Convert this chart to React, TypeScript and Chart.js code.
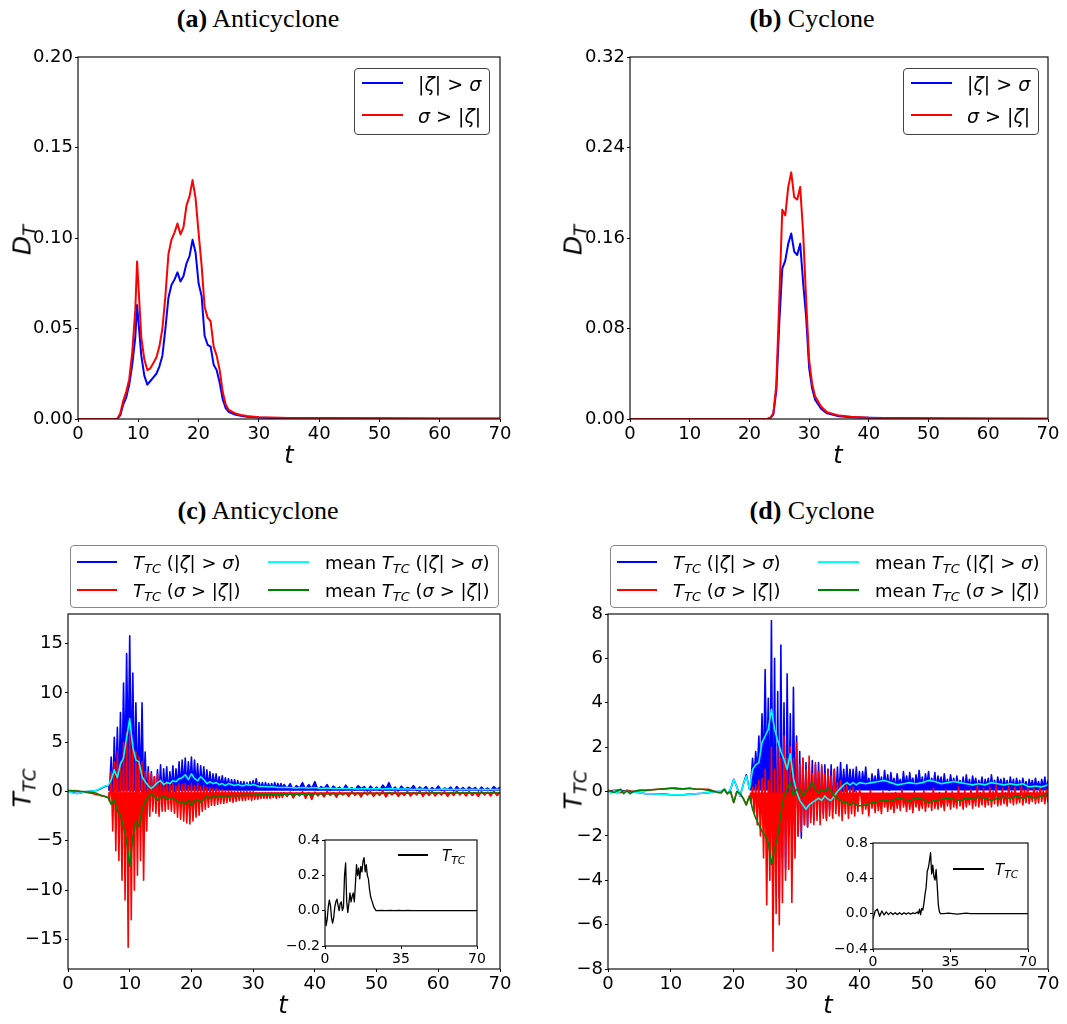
import React, { useEffect, useRef } from 'react';
import { Chart, registerables } from 'chart.js';

Chart.register(...registerables);

// ---------- time grids ----------
function seg(a: number, b: number, s: number): number[] {
  const out: number[] = [];
  const n = Math.round((b - a) / s);
  for (let i = 0; i <= n; i++) out.push(+(a + i * s).toFixed(4));
  return out;
}

// ---------- (a) Anticyclone D_T ----------
const T_A = [0, 6.5, 7, 7.5, 8, 8.5, 9, 9.5, 9.8, 10, 10.5, 11, 11.5, 12, 12.5, 13, 13.5, 14, 14.5, 15, 15.5, 16, 16.5, 17, 17.5, 18, 18.5, 19, 19.5, 20, 20.5, 21, 21.5, 22, 22.5, 23, 23.5, 24, 24.5, 25, 26, 27, 28, 30, 32, 35, 40, 50, 60, 70];
const DA_ZETA = [0, 0, 0.002, 0.008, 0.012, 0.019, 0.03, 0.045, 0.063, 0.055, 0.035, 0.024, 0.019, 0.021, 0.023, 0.025, 0.029, 0.035, 0.05, 0.067, 0.074, 0.077, 0.081, 0.076, 0.079, 0.086, 0.09, 0.099, 0.092, 0.075, 0.068, 0.046, 0.041, 0.04, 0.03, 0.027, 0.02, 0.011, 0.006, 0.004, 0.0025, 0.0018, 0.0013, 0.0008, 0.0006, 0.0005, 0.0004, 0.0003, 0.0002, 0.0002];
const DA_SIGMA = [0, 0, 0.003, 0.01, 0.015, 0.022, 0.037, 0.06, 0.087, 0.075, 0.045, 0.033, 0.027, 0.028, 0.031, 0.034, 0.04, 0.05, 0.068, 0.091, 0.099, 0.103, 0.108, 0.102, 0.106, 0.118, 0.123, 0.132, 0.122, 0.103, 0.085, 0.062, 0.056, 0.054, 0.04, 0.035, 0.027, 0.015, 0.008, 0.005, 0.0032, 0.0022, 0.0016, 0.001, 0.0008, 0.0006, 0.0005, 0.0004, 0.0003, 0.0003];

// ---------- (b) Cyclone D_T ----------
const T_B = [0, 23, 23.5, 24, 24.5, 25, 25.5, 26, 26.5, 27, 27.5, 28, 28.5, 29, 29.5, 30, 30.5, 31, 32, 33, 35, 37, 40, 45, 50, 60, 70];
const DB_ZETA = [0, 0, 0.001, 0.004, 0.025, 0.085, 0.133, 0.14, 0.155, 0.164, 0.148, 0.145, 0.155, 0.12, 0.09, 0.045, 0.027, 0.017, 0.009, 0.005, 0.0025, 0.0015, 0.001, 0.0007, 0.0005, 0.0003, 0.0002];
const DB_SIGMA = [0, 0, 0.001, 0.005, 0.03, 0.105, 0.185, 0.18, 0.205, 0.218, 0.196, 0.194, 0.205, 0.164, 0.105, 0.052, 0.031, 0.02, 0.011, 0.006, 0.003, 0.002, 0.0012, 0.0008, 0.0006, 0.0004, 0.0003];

// ---------- (c) Anticyclone T_TC ----------
const T_C = [...seg(0, 6.5, 0.5), ...seg(6.75, 35, 0.25), ...seg(35.5, 70, 0.5)];
const TC_ZETA = [
  0, -0.05, -0.15, -0.2, -0.15, -0.05, 0, 0.02, 0.05, 0.1, 0.2, 0.35, 0.5, 0.6,
  0.5, 3.5, -0.5, 5.5, 0.5, 6.5, 0, 8,
  1, 11, 2, 14, 3, 15.8, 2, 12,
  1, 9, 0, 7, 0.5, 9, -0.5, 4,
  -1, 2.5, -1.2, 2, -0.8, 1.5, -1.3, 2.2,
  -0.5, 2.7, -0.8, 2.3, 0, 2.5, -0.3, 2.0,
  0.2, 2.6, 0, 2.3, 0.3, 3.0, 0.2, 3.2,
  0.5, 3.4, 0.3, 3.0, 0.6, 3.5, 0.4, 3.2,
  0.5, 2.8, 0.3, 2.6, 0.5, 2.5, 0.3, 2.2,
  0.4, 2.0, 0.3, 1.8, 0.5, 1.8, 0.4, 1.5,
  0.5, 1.6, 0.4, 1.4, 0.5, 1.3, 0.4, 1.2,
  0.5, 1.2, 0.4, 1.1, 0.4, 1.0, 0.4, 1.0,
  0.4, 0.9, 0.3, 1.0, 0.4, 1.1, 0.3, 1.3,
  0.4, 0.9, 0.3, 0.9, 0.3, 0.9, 0.3, 0.8,
  0.3, 0.8, 0.3, 0.9, 0.3, 0.8, 0.3, 0.8,
  0.3, 0.7,
  0.3, 0.8, 0.15, 0.6, 0.35, 0.9, 0.2, 0.7, 0.3, 1.0,
  0.15, 0.5, 0.3, 0.7, 0.1, 0.55, 0.25, 0.45, 0.1, 0.65,
  0.2, 0.4, 0.15, 0.6, 0.3, 0.5, 0.05, 0.55, 0.2, 0.45,
  0.1, 0.65, 0.25, 0.9, 0.15, 0.45, 0.05, 0.55, 0.2, 0.4,
  0.25, 0.6, 0.1, 0.45, 0.2, 0.5, 0.05, 0.4, 0.15, 0.55,
  0.1, 0.35, 0.2, 0.45, 0.05, 0.5, 0.15, 0.4, 0.1, 0.45,
  0.2, 0.4, 0.05, 0.45, 0.15, 0.35, 0.1, 0.5, 0.2, 0.45,
];
const TC_SIGMA = [
  0, 0.05, 0.1, 0.05, 0, -0.05, -0.1, -0.15, -0.2, -0.3, -0.35, -0.45, -0.5, -0.6,
  -1, 2, -4, 3, -6, 4, -7, 3,
  -9, 5, -11, 6, -15.8, 7, -13, 5,
  -10, 4, -8.5, 3.5, -7, 3, -9, 2,
  -4, 2, -2.5, 1.8, -2, 1.5, -2.2, 1.8,
  -2.5, 1.2, -2, 1.0, -2, 1.0, -1.8, 0.8,
  -2, 0.8, -2.2, 0.6, -2.6, 0.8, -2.8, 0.7,
  -3.0, 0.8, -3.2, 0.6, -3.3, 0.8, -3.0, 0.6,
  -2.6, 0.8, -2.4, 0.5, -2.0, 0.6, -1.8, 0.4,
  -1.6, 0.4, -1.4, 0.3, -1.4, 0.3, -1.3, 0.2,
  -1.2, 0.2, -1.2, 0.1, -1.1, 0.1, -1.0, 0.1,
  -1.1, 0, -1.0, 0, -0.9, 0, -0.9, 0,
  -0.9, 0, -0.8, 0, -0.9, 0, -0.8, -0.1,
  -0.8, -0.1, -0.7, -0.1, -0.7, -0.1, -0.7, -0.1,
  -0.7, -0.1, -0.6, -0.1, -0.7, -0.1, -0.6, -0.1,
  -0.6, -0.1,
  -0.5, -0.05, -0.65, -0.15, -0.45, 0.0, -0.7, -0.1, -0.8, -0.05,
  -0.45, -0.15, -0.55, 0.0, -0.4, -0.1, -0.6, -0.05, -0.35, -0.15,
  -0.5, 0.0, -0.4, -0.1, -0.55, -0.05, -0.35, 0.0, -0.5, -0.1,
  -0.4, 0.05, -0.55, -0.1, -0.35, 0.0, -0.5, -0.15, -0.4, 0.0,
  -0.45, -0.1, -0.35, 0.05, -0.5, -0.05, -0.4, 0.0, -0.45, -0.1,
  -0.35, 0.0, -0.5, -0.1, -0.4, 0.05, -0.35, -0.05, -0.45, 0.0,
  -0.4, -0.1, -0.5, 0.0, -0.35, -0.05, -0.45, 0.05, -0.4, -0.1,
];
const T_C_MEAN = [...seg(0, 6.5, 0.5), ...seg(7, 35, 0.5), ...seg(36, 70, 1)];
const TC_MEAN_ZETA = [
  0, -0.1, -0.2, -0.2, -0.15, -0.05, 0, 0, 0.05, 0.1, 0.25, 0.4, 0.55, 0.6,
  1.2, 2.2, 1.4, 2.8, 3.4, 5.5, 7.4, 4.5, 3.2, 3.0,
  1.5, 1.0, 0.6, 0.3, 0.6, 0.9, 1.1, 0.7, 0.9, 0.8,
  1.1, 1.0, 1.3, 1.4, 1.7, 1.2, 1.8, 1.3, 1.1, 1.5,
  1.2, 0.8, 1.0, 0.8, 0.9, 0.7, 0.8, 0.6, 0.8, 0.7,
  0.6, 0.7, 0.6, 0.6, 0.7, 0.6, 0.7, 0.6, 0.5, 0.5,
  0.5, 0.45, 0.5, 0.45, 0.4, 0.4, 0.4,
  0.4, 0.35, 0.4, 0.35, 0.4, 0.3, 0.35, 0.3, 0.3, 0.3,
  0.3, 0.25, 0.3, 0.25, 0.3, 0.25, 0.3, 0.25, 0.25, 0.25,
  0.2, 0.25, 0.2, 0.2, 0.2, 0.25, 0.2, 0.2, 0.2, 0.2,
  0.2, 0.2, 0.2, 0.2, 0.2,
];
const TC_MEAN_SIGMA = [
  0.1, 0.1, 0.05, 0.05, 0, 0, -0.05, -0.05, -0.1, -0.15, -0.3, -0.4, -0.5, -0.6,
  -1.3, -0.8, -2.0, -2.4, -3.6, -5.0, -7.6, -4.6, -3.0, -3.6,
  -1.8, -1.0, -0.6, -0.3, -0.4, -0.9, -0.6, -0.5, -0.8, -0.6,
  -0.7, -0.9, -1.1, -1.0, -1.3, -0.9, -1.4, -0.9, -0.8, -1.1,
  -0.8, -0.5, -0.7, -0.5, -0.6, -0.4, -0.5, -0.4, -0.5, -0.4,
  -0.4, -0.45, -0.4, -0.35, -0.4, -0.35, -0.4, -0.3, -0.35, -0.3,
  -0.3, -0.3, -0.3, -0.3, -0.3, -0.25, -0.3,
  -0.25, -0.3, -0.25, -0.3, -0.25, -0.2, -0.25, -0.2, -0.25, -0.2,
  -0.2, -0.2, -0.2, -0.2, -0.2, -0.2, -0.15, -0.2, -0.2, -0.15,
  -0.2, -0.15, -0.2, -0.15, -0.15, -0.2, -0.15, -0.15, -0.15, -0.15,
  -0.15, -0.15, -0.15, -0.15, -0.15,
];
const T_C_INSET = [...seg(0, 24, 0.5), ...seg(26, 70, 2)];
const TC_TOTAL = [
  0.0, -0.085, -0.05, 0.02, 0.06, 0.03, -0.04, -0.07, -0.04, 0.02,
  0.05, 0.065, 0.03, 0.0, 0.04, 0.05, 0.0, 0.02, 0.2, 0.27,
  0.05, -0.01, 0.04, 0.1, 0.05, 0.08, 0.1, 0.05, 0.15, 0.26,
  0.2, 0.24, 0.18, 0.25, 0.22, 0.28, 0.3, 0.22, 0.26, 0.2,
  0.18, 0.12, 0.08, 0.06, 0.04, 0.02, 0.01, 0.0, 0.0,
  0.002, 0, 0.002, 0, 0.001, 0, 0.001, 0, 0, 0, 0, 0, 0, 0, 0, 0, 0, 0, 0, 0, 0, 0, 0,
];

// ---------- (d) Cyclone T_TC ----------
const T_D = [...seg(0, 18, 1), ...seg(18.5, 22.5, 0.5), ...seg(22.75, 70, 0.25)];
const TD_ZETA = [
  0, 0.05, 0.05, 0, 0, -0.05, -0.1, -0.1, -0.12, -0.12, -0.15, -0.15, -0.15, -0.12, -0.1, -0.08, -0.05, 0, 0,
  0.1, -0.1, 0.1, 0.55, 0.2, -0.2, 0.3, 0.75, 0.1,
  0.5, 1.5, 0.6, 1.8, 0.8, 2.5, 0.5, 3.5,
  0.8, 5.5, 0.5, 4.2, -1.5, 7.7, -3.0, 6.0,
  -4.0, 4.5, -4.8, 6.6, -3.0, 4.0, -3.5, 5.3,
  -2.0, 3.5, -2.5, 4.7, -1.5, 2.5, -2.0, 1.8,
  -2.1, 1.5, -1.5, 1.3, -1.6, 1.2, -1.2, 1.4,
  -1.3, 1.2, -1.0, 1.3, -1.1, 1.1, -1.0, 1.2,
  -1.2, 1.0, -0.8, 1.2, -0.9, 1.0, -0.5, 1.1,
  -0.3, 1.3, 0.0, 1.0, 0.0, 1.2, 0.1, 1.0,
  0.1, 1.0, 0.0, 1.1, 0.1, 0.9,
  0.1, 0.9, 0.3, 1.1, 0.2, 0.6, 0.05, 0.8, 0.25, 0.7,
  0.1, 1.0, 0.3, 0.65, 0.15, 0.95, 0.2, 0.75, 0.05, 0.85,
  0.25, 0.6, 0.1, 0.8, 0.3, 0.55, 0.1, 0.9, 0.2, 0.7,
  0.15, 0.85, 0.3, 0.6, 0.05, 0.75, 0.2, 0.95, 0.25, 0.65,
  0.1, 0.8, 0.3, 0.9, 0.15, 0.6, 0.2, 0.85, 0.1, 0.7,
  0.3, 0.65, 0.1, 0.8, 0.2, 0.55, 0.15, 0.75, 0.25, 0.6,
  0.1, 0.7, 0.2, 0.5, 0.15, 0.65, 0.05, 0.75, 0.2, 0.55,
  0.1, 0.7, 0.25, 0.6, 0.1, 0.5, 0.2, 0.65, 0.05, 0.55,
  0.2, 0.6, 0.1, 0.75, 0.2, 0.5, 0.1, 0.65, 0.25, 0.55,
  0.1, 0.6, 0.2, 0.5, 0.05, 0.65, 0.2, 0.55, 0.1, 0.6,
  0.2, 0.5, 0.1, 0.6, 0.15, 0.45, 0.05, 0.55, 0.2, 0.5,
  0.1, 0.6, 0.2, 0.45, 0.1, 0.55, 0.15, 0.65, 0.1, 0.5,
];
const TD_SIGMA = [
  0.05, 0, -0.05, 0.05, 0, 0.05, 0.05, 0.08, 0.1, 0.12, 0.15, 0.12, 0.12, 0.15, 0.1, 0.1, 0.1, 0, -0.05,
  0.1, -0.1, 0.0, -0.5, 0.0, -0.1, -0.3, -0.6, -0.2,
  -0.5, 0.2, -1.0, 0.3, -1.5, 0.5, -2.0, 0.6,
  -3.0, 1.0, -5.1, 0.5, -4.0, 2.0, -7.2, 1.0,
  -5.5, 2.0, -6.0, 1.5, -5.0, 2.5, -4.0, 1.5,
  -3.5, 2.0, -5.0, 1.5, -3.0, 2.2, -2.0, 1.2,
  -1.8, 1.5, -1.5, 1.0, -1.6, 1.6, -1.4, 0.8,
  -1.5, 1.3, -1.3, 0.9, -1.5, 1.2, -1.2, 0.8,
  -1.3, 1.0, -1.1, 0.7, -1.2, 1.0, -1.0, 0.4,
  -1.1, 0.5, -1.3, 0.2, -1.0, 0.3, -1.2, 0.1,
  -1.0, 0.2, -1.1, 0.0, -0.9, 0.1,
  -0.2, -1.0, -0.1, -0.8, -0.3, -1.1, 0.05, -0.75, -0.2, -0.95,
  -0.1, -0.85, -0.3, -1.0, 0.0, -0.7, -0.2, -0.9, -0.1, -0.8,
  -0.3, -0.95, -0.05, -0.75, -0.2, -0.85, 0.1, -0.7, -0.25, -0.9,
  -0.1, -0.8, -0.2, -0.95, 0.0, -0.7, -0.15, -0.85, -0.3, -0.75,
  0.05, -0.9, -0.2, -0.7, -0.1, -0.85, 0.15, -0.75, -0.2, -0.8,
  -0.05, -0.7, -0.25, -0.85, 0.1, -0.65, -0.15, -0.8, 0.0, -0.7,
  -0.2, -0.75, 0.2, -0.65, -0.1, -0.8, 0.05, -0.7, -0.2, -0.6,
  0.1, -0.75, -0.1, -0.65, 0.25, -0.7, -0.05, -0.6, 0.15, -0.7,
  -0.1, -0.6, 0.2, -0.7, 0.0, -0.55, 0.3, -0.65, -0.1, -0.6,
  0.15, -0.55, -0.05, -0.65, 0.25, -0.5, 0.0, -0.6, 0.2, -0.55,
  -0.1, -0.5, 0.3, -0.6, 0.05, -0.5, 0.2, -0.55, -0.05, -0.45,
  0.2, -0.55, 0.0, -0.5, 0.25, -0.45, 0.05, -0.55, 0.1, -0.5,
];
const T_D_MEAN = [...seg(0, 4, 0.5), ...seg(5, 17, 1), ...seg(17.5, 40, 0.5), ...seg(41, 70, 1)];
const TD_MEAN_ZETA = [
  0, -0.1, 0.05, -0.1, 0.05, -0.05, 0.05, -0.1, 0,
  -0.05, -0.1, -0.1, -0.12, -0.13, -0.15, -0.15, -0.15, -0.12, -0.1, -0.08, -0.05, 0,
  0, 0, 0.1, -0.1, 0.1, 0.55, 0.2, -0.2, 0.3, 0.7,
  0.1, 1.0, 1.2, 1.3, 2.2, 2.5, 2.8, 3.7, 2.8, 2.3,
  1.8, 1.45, 1.0, 1.7, 0.6, 0.0, -0.4, -0.6, -0.8, -0.6,
  -0.5, -0.4, -0.3, -0.4, -0.2, -0.35, -0.4, -0.2, 0.0, 0.15,
  0.3, 0.4, 0.3, 0.4, 0.3, 0.4,
  0.35, 0.4, 0.45, 0.5, 0.4, 0.3, 0.35, 0.4, 0.35, 0.4,
  0.5, 0.45, 0.35, 0.4, 0.45, 0.4, 0.35, 0.3, 0.35, 0.3,
  0.4, 0.35, 0.3, 0.35, 0.3, 0.35, 0.2, 0.25, 0.2, 0.3,
];
const TD_MEAN_SIGMA = [
  0.05, 0.0, -0.05, 0.05, 0.1, -0.1, 0.05, -0.1, 0.0,
  0.05, 0.05, 0.08, 0.1, 0.12, 0.15, 0.15, 0.12, 0.15, 0.1, 0.1, 0.05, 0.0,
  -0.05, -0.05, 0.1, -0.1, 0.0, -0.5, 0.0, -0.1, -0.3, -0.6,
  -0.2, -0.8, -1.2, -1.5, -1.8, -2.0, -2.3, -3.3, -2.6, -2.0,
  -1.0, -0.2, 0.1, 0.4, -0.2, 0.1, 0.1, -0.2, 0.0, 0.2,
  0.4, 0.1, -0.05, 0.1, 0.0, 0.15, 0.0, -0.2, -0.3, -0.4,
  -0.5, -0.5, -0.6, -0.5, -0.6, -0.65,
  -0.6, -0.5, -0.45, -0.4, -0.45, -0.3, -0.35, -0.4, -0.3, -0.35,
  -0.5, -0.4, -0.35, -0.3, -0.35, -0.4, -0.3, -0.35, -0.25, -0.3,
  -0.4, -0.3, -0.25, -0.3, -0.2, -0.3, -0.2, -0.3, -0.2, -0.15,
];
const T_D_INSET = [...seg(0, 20, 1), ...seg(20.5, 31, 0.5), ...seg(32, 70, 2)];
const TD_TOTAL = [
  -0.06, 0.03, 0.05, -0.03, 0.03, -0.015, 0.02, -0.01, 0.015, -0.01, 0.01, -0.01, 0.01, -0.01, 0.01, -0.005, 0.01, -0.005, 0.01, 0.0, 0.02,
  0.0, 0.05, -0.01, 0.06, 0.04, 0.12, 0.22, 0.3, 0.48, 0.52, 0.6, 0.69, 0.45, 0.55, 0.42, 0.38, 0.5, 0.32, 0.1, 0.02, 0.0, 0.0,
  0, 0.005, 0, -0.005, 0, 0.005, 0, 0, 0, 0, 0, 0, 0, 0, 0, 0, 0, 0, 0, 0,
];

// ---------- tick settings ----------
const X_TICKS_MAIN = [0, 70, 10];
const X_TICKS_INSET = [0, 70, 35];
const Y_TICKS_A = [0, 0.2, 0.05];
const Y_TICKS_B = [0, 0.32, 0.08];
const Y_TICKS_C = [-18, 18, 5];
const Y_TICKS_D = [-8, 8, 2];
const Y_TICKS_C_INSET = [-0.2, 0.4, 0.2];
const Y_TICKS_D_INSET = [-0.4, 0.8, 0.4];

const BLUE = '#0000ff';
const RED = '#ff0000';
const CYAN = '#00ffff';
const GREEN = '#008000';
const FONT = "'DejaVu Sans', 'Liberation Sans', sans-serif";

type LineSpec = {
  t: number[]; y: number[]; color: string; width: number; order: number;
  fillValue?: number; fillFrom?: number;
};
type Spec = {
  left: number; top: number; w: number; h: number;
  plot: [number, number, number, number];
  x: number[]; y: number[]; yDec: number; font: number;
  lines: LineSpec[]; inset?: boolean;
};

function pts(t: number[], y: number[]) {
  const n = Math.min(t.length, y.length);
  const out: { x: number; y: number }[] = [];
  for (let i = 0; i < n; i++) out.push({ x: t[i], y: y[i] });
  return out;
}

const SPECS: Spec[] = [
  {
    left: 0, top: 40, w: 530, h: 440, plot: [78, 57, 500, 419], x: X_TICKS_MAIN, y: Y_TICKS_A, yDec: 2, font: 18,
    lines: [
      { t: T_A, y: DA_ZETA, color: BLUE, width: 2, order: 2 },
      { t: T_A, y: DA_SIGMA, color: RED, width: 2, order: 1 },
    ],
  },
  {
    left: 535, top: 40, w: 532, h: 440, plot: [630, 57, 1048, 419], x: X_TICKS_MAIN, y: Y_TICKS_B, yDec: 2, font: 18,
    lines: [
      { t: T_B, y: DB_ZETA, color: BLUE, width: 2, order: 2 },
      { t: T_B, y: DB_SIGMA, color: RED, width: 2, order: 1 },
    ],
  },
  {
    left: 0, top: 600, w: 530, h: 424, plot: [68, 614, 500, 969], x: X_TICKS_MAIN, y: Y_TICKS_C, yDec: 0, font: 18,
    lines: [
      { t: T_C, y: TC_ZETA, color: BLUE, width: 1.6, order: 4, fillValue: 0.08, fillFrom: 6.5 },
      { t: T_C, y: TC_SIGMA, color: RED, width: 1.6, order: 3, fillValue: -0.08, fillFrom: 6.5 },
      { t: T_C_MEAN, y: TC_MEAN_ZETA, color: CYAN, width: 1.6, order: 2 },
      { t: T_C_MEAN, y: TC_MEAN_SIGMA, color: GREEN, width: 1.6, order: 1 },
    ],
  },
  {
    left: 535, top: 600, w: 532, h: 424, plot: [608, 614, 1048, 969], x: X_TICKS_MAIN, y: Y_TICKS_D, yDec: 0, font: 18,
    lines: [
      { t: T_D, y: TD_ZETA, color: BLUE, width: 1.6, order: 4, fillValue: 0.05, fillFrom: 22.5 },
      { t: T_D, y: TD_SIGMA, color: RED, width: 1.6, order: 3, fillValue: -0.05, fillFrom: 22.5 },
      { t: T_D_MEAN, y: TD_MEAN_ZETA, color: CYAN, width: 1.6, order: 2 },
      { t: T_D_MEAN, y: TD_MEAN_SIGMA, color: GREEN, width: 1.6, order: 1 },
    ],
  },
  {
    left: 280, top: 825, w: 220, h: 145, plot: [325, 840, 477, 946], x: X_TICKS_INSET, y: Y_TICKS_C_INSET, yDec: 1, font: 14, inset: true,
    lines: [{ t: T_C_INSET, y: TC_TOTAL, color: '#000', width: 1.3, order: 1 }],
  },
  {
    left: 828, top: 828, w: 225, h: 145, plot: [873, 843, 1028, 949], x: X_TICKS_INSET, y: Y_TICKS_D_INSET, yDec: 1, font: 14, inset: true,
    lines: [{ t: T_D_INSET, y: TD_TOTAL, color: '#000', width: 1.3, order: 1 }],
  },
];

function fmt(dec: number) {
  return (v: any) => {
    const n = Number(v);
    const s = Math.abs(n).toFixed(dec);
    return (n < -1e-9 ? '\u2212' : '') + s;
  };
}

function makeFrame(fillWhite: boolean) {
  return {
    id: 'frame',
    beforeDraw(chart: any) {
      if (!fillWhite) return;
      const { ctx, chartArea } = chart;
      ctx.save();
      ctx.fillStyle = '#ffffff';
      ctx.fillRect(chartArea.left, chartArea.top, chartArea.right - chartArea.left, chartArea.bottom - chartArea.top);
      ctx.restore();
    },
    afterDraw(chart: any) {
      const { ctx, chartArea } = chart;
      ctx.save();
      ctx.strokeStyle = '#111';
      ctx.lineWidth = 1.2;
      ctx.strokeRect(chartArea.left, chartArea.top, chartArea.right - chartArea.left, chartArea.bottom - chartArea.top);
      ctx.restore();
    },
  };
}

function ChartBox({ spec }: { spec: Spec }) {
  const ref = useRef<HTMLCanvasElement>(null);
  useEffect(() => {
    const c = ref.current;
    if (!c) return;
    const [pl, pt, pr, pb] = spec.plot;
    const yW = pl - spec.left;
    const xH = spec.top + spec.h - pb;
    const padTop = pt - spec.top;
    const padRight = spec.left + spec.w - pr;
    const tickFont = { family: FONT, size: spec.font };
    const chart = new Chart(c, {
      type: 'line',
      data: {
        datasets: spec.lines.map((l) => {
          const ds: any = {
            data: pts(l.t, l.y),
            borderColor: l.color,
            backgroundColor: l.color,
            borderWidth: l.width,
            pointRadius: 0,
            fill: false,
            tension: 0,
            order: l.order,
            borderJoinStyle: 'round',
          };
          if (l.fillValue !== undefined) {
            const from = l.fillFrom ?? -Infinity;
            ds.fill = { value: l.fillValue };
            ds.segment = {
              backgroundColor: (ctx: any) => (ctx.p0.parsed.x < from ? 'rgba(0,0,0,0)' : l.color),
            };
          }
          return ds;
        }),
      } as any,
      options: {
        responsive: false,
        animation: false,
        devicePixelRatio: 1,
        events: [],
        layout: { padding: { left: 0, top: padTop, right: padRight, bottom: 0 } },
        plugins: {
          legend: { display: false }, tooltip: { enabled: false }, title: { display: false },
          filler: { drawTime: 'beforeDatasetDraw', propagate: false },
        },
        scales: {
          x: {
            type: 'linear',
            min: spec.x[0],
            max: spec.x[1],
            ticks: {
              stepSize: spec.x[2], includeBounds: false, autoSkip: false, maxRotation: 0,
              font: tickFont, color: '#000', padding: 2, callback: fmt(0),
            },
            grid: { display: true, drawOnChartArea: false, drawTicks: true, tickLength: 3, color: '#000' },
            border: { display: false },
            afterFit: (s: any) => { s.height = xH; },
          },
          y: {
            type: 'linear',
            min: spec.y[0],
            max: spec.y[1],
            ticks: {
              stepSize: spec.y[2], includeBounds: false, autoSkip: false,
              font: tickFont, color: '#000', padding: 2, callback: fmt(spec.yDec),
            },
            grid: { display: true, drawOnChartArea: false, drawTicks: true, tickLength: 3, color: '#000' },
            border: { display: false },
            afterFit: (s: any) => { s.width = yW; },
          },
        },
      } as any,
      plugins: [makeFrame(!!spec.inset)],
    });
    return () => chart.destroy();
  }, [spec]);
  return (
    <canvas
      ref={ref}
      width={spec.w}
      height={spec.h}
      style={{ position: 'absolute', left: spec.left, top: spec.top, width: spec.w, height: spec.h }}
    />
  );
}

// ---------- text overlays ----------
function Title({ x, y, tag, text }: { x: number; y: number; tag: string; text: string }) {
  return (
    <div style={{
      position: 'absolute', left: x, top: y, transform: 'translate(-50%,-50%)',
      fontFamily: "'Liberation Serif', 'Times New Roman', serif", fontSize: 26, lineHeight: 1,
      whiteSpace: 'nowrap', color: '#000',
    }}>
      <b>{tag}</b> {text}
    </div>
  );
}

function Txt({ x, y, size, children, rotate, center }: any) {
  return (
    <div style={{
      position: 'absolute', left: x, top: y,
      transform: rotate ? 'translate(-50%,-50%) rotate(-90deg)' : center ? 'translate(-50%,-50%)' : 'translateY(-50%)',
      fontFamily: FONT, fontSize: size, lineHeight: 1, whiteSpace: 'nowrap', color: '#000',
    }}>
      {children}
    </div>
  );
}

function LLine({ x1, x2, y, color, w = 2 }: any) {
  return <div style={{ position: 'absolute', left: x1, top: y - w / 2, width: x2 - x1, height: w, background: color }} />;
}

function Box({ l, t, w, h, c = '#444' }: any) {
  return (
    <div style={{
      position: 'absolute', left: l, top: t, width: w, height: h, boxSizing: 'border-box',
      border: `1px solid ${c}`, borderRadius: 4, background: 'rgba(255,255,255,0.85)',
    }} />
  );
}

const TTC = () => (
  <span><i>T</i><i style={{ fontSize: '0.72em', position: 'relative', top: '0.3em' }}>TC</i></span>
);
const DT = () => (
  <span><i>D</i><i style={{ fontSize: '0.72em', position: 'relative', top: '0.3em' }}>T</i></span>
);
const C1 = () => <span>(|<i>ζ</i>| &gt; <i>σ</i>)</span>;
const C2 = () => <span>(<i>σ</i> &gt; |<i>ζ</i>|)</span>;

function TopLegend({ l }: { l: number }) {
  return (
    <>
      <Box l={l} t={68} w={136} h={67} />
      <LLine x1={l + 8} x2={l + 49} y={83} color={BLUE} />
      <Txt x={l + 64} y={84} size={19}>|<i>ζ</i>| &gt; <i>σ</i></Txt>
      <LLine x1={l + 8} x2={l + 49} y={115} color={RED} />
      <Txt x={l + 64} y={116} size={19}><i>σ</i> &gt; |<i>ζ</i>|</Txt>
    </>
  );
}

function BottomLegend({ l, w, c2 }: { l: number; w: number; c2: number }) {
  return (
    <>
      <Box l={l} t={545} w={w} h={63} c="#888" />
      <LLine x1={l + 7} x2={l + 47} y={562} color={BLUE} />
      <Txt x={l + 63} y={563} size={18}><TTC /> <C1 /></Txt>
      <LLine x1={l + 7} x2={l + 47} y={590} color={RED} />
      <Txt x={l + 63} y={591} size={18}><TTC /> <C2 /></Txt>
      <LLine x1={l + c2} x2={l + c2 + 41} y={562} color={CYAN} />
      <Txt x={l + c2 + 57} y={563} size={18}>mean <TTC /> <C1 /></Txt>
      <LLine x1={l + c2} x2={l + c2 + 41} y={590} color={GREEN} />
      <Txt x={l + c2 + 57} y={591} size={18}>mean <TTC /> <C2 /></Txt>
    </>
  );
}

export default function App() {
  return (
    <div style={{ position: 'absolute', left: 0, top: 0, width: 1067, height: 1024, background: '#fff', overflow: 'hidden' }}>
      {SPECS.map((s, i) => <ChartBox key={i} spec={s} />)}

      <Title x={258} y={19} tag="(a)" text="Anticyclone" />
      <Title x={812} y={19} tag="(b)" text="Cyclone" />
      <Title x={258} y={511} tag="(c)" text="Anticyclone" />
      <Title x={812} y={511} tag="(d)" text="Cyclone" />

      <Txt x={22} y={240} size={25} rotate><DT /></Txt>
      <Txt x={573} y={240} size={25} rotate><DT /></Txt>
      <Txt x={22} y={788} size={25} rotate><TTC /></Txt>
      <Txt x={573} y={790} size={25} rotate><TTC /></Txt>

      <Txt x={289} y={455} size={24} center><i>t</i></Txt>
      <Txt x={838} y={455} size={24} center><i>t</i></Txt>
      <Txt x={283} y={1005} size={24} center><i>t</i></Txt>
      <Txt x={828} y={1005} size={24} center><i>t</i></Txt>

      <TopLegend l={354} />
      <TopLegend l={903} />
      <BottomLegend l={70} w={429} c2={198} />
      <BottomLegend l={610} w={437} c2={208} />

      <LLine x1={398} x2={428} y={855} color="#000" w={1.5} />
      <Txt x={442} y={856} size={15}><TTC /></Txt>
      <LLine x1={953} x2={984} y={869} color="#000" w={1.5} />
      <Txt x={995} y={870} size={15}><TTC /></Txt>
    </div>
  );
}
